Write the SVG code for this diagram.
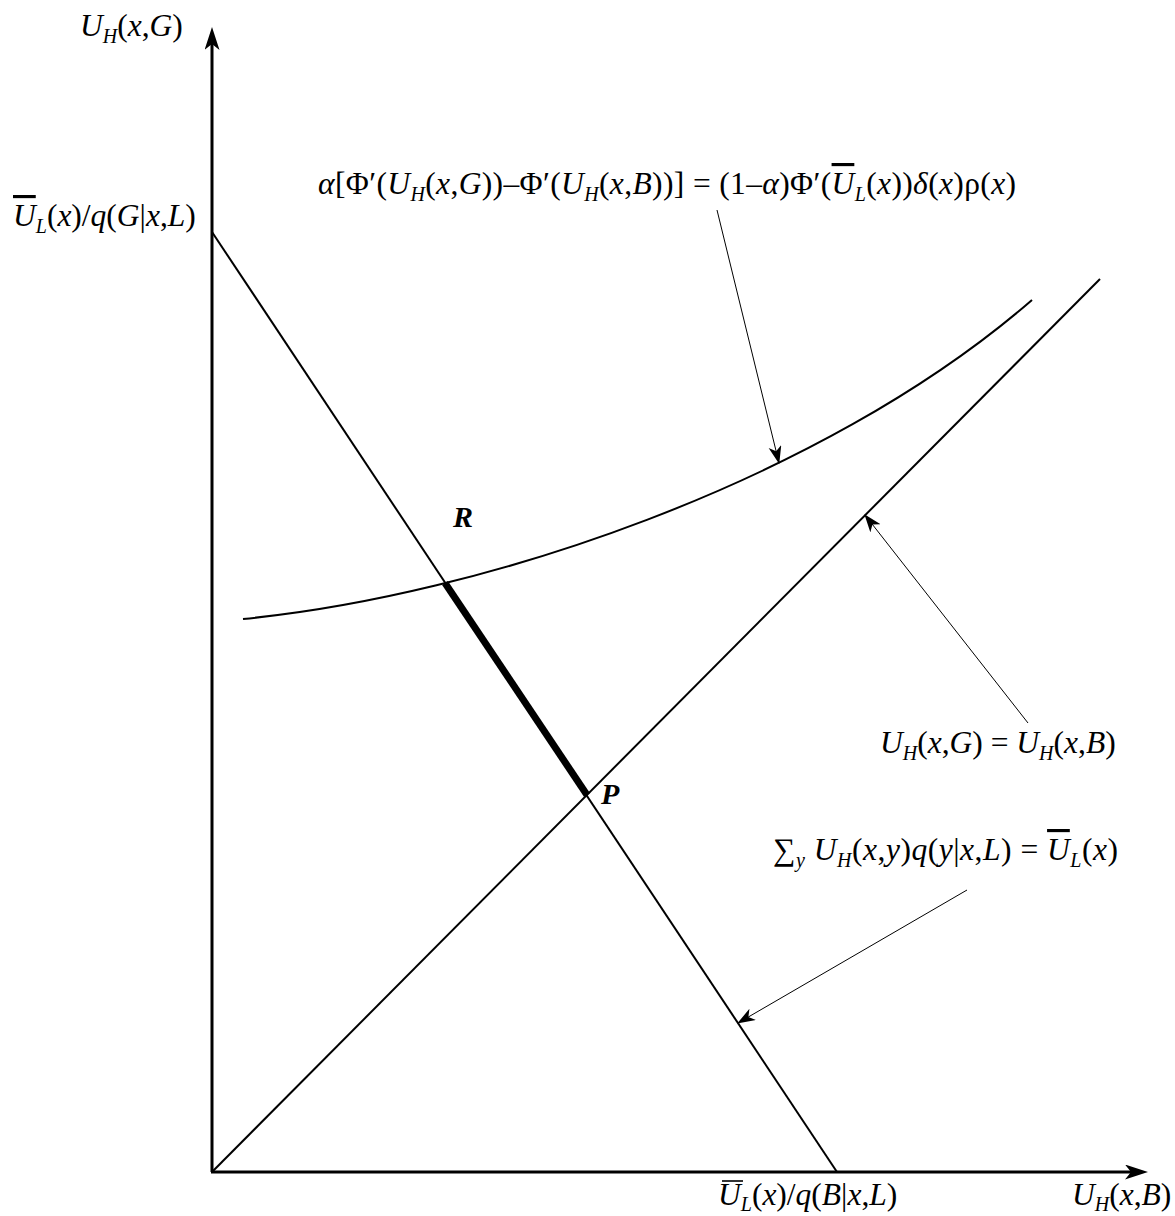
<svg xmlns="http://www.w3.org/2000/svg" width="1175" height="1216" viewBox="0 0 1175 1216">
<style>
text{font-family:"Liberation Serif","Times New Roman",serif;font-size:31.5px;fill:#000}
.i{font-style:italic}
.s{font-size:20px;font-style:italic}
.b{font-weight:bold;font-style:italic;font-size:30px}
.ax{stroke:#000;stroke-width:3;fill:none}
.ln{stroke:#000;stroke-width:2;fill:none}
.ld{stroke:#000;stroke-width:1;fill:none}
.bar{stroke:#000;stroke-width:1.6;fill:none}
.ov{text-decoration:overline}
</style>
<defs>
<marker id="axArrow" markerUnits="userSpaceOnUse" markerWidth="26" markerHeight="18" refX="10" refY="7.5" orient="auto">
<path d="M0,0 L23,7.5 L0,15 L6,7.5 Z" fill="#000"/>
</marker>
<marker id="ldArrow" markerUnits="userSpaceOnUse" markerWidth="20" markerHeight="15" refX="17" refY="6.5" orient="auto">
<path d="M0,0 L18,6.5 L0,13 L5,6.5 Z" fill="#000"/>
</marker>
</defs>

<g id="axes">
<line class="ax" x1="212" y1="1172" x2="212" y2="40" marker-end="url(#axArrow)"/>
<line class="ax" x1="211" y1="1172" x2="1135" y2="1172" marker-end="url(#axArrow)"/>
</g>

<g id="budget-line">
<line class="ln" x1="212" y1="232" x2="837" y2="1172"/>
</g>
<g id="diagonal">
<line class="ln" x1="212" y1="1172" x2="1100" y2="279"/>
</g>
<g id="curve">
<path class="ln" d="M243,619 C480,596 820,484 1032,300"/>
</g>
<g id="segment-RP">
<line stroke="#000" stroke-width="7" x1="445" y1="583" x2="587" y2="795"/>
</g>

<g id="connectors">
<line class="ld" x1="717" y1="210" x2="779" y2="463" marker-end="url(#ldArrow)"/>
<line class="ld" x1="1028" y1="723" x2="865" y2="515" marker-end="url(#ldArrow)"/>
<line class="ld" x1="967" y1="890" x2="738" y2="1023" marker-end="url(#ldArrow)"/>
</g>

<g id="label-yaxis">
<text x="80" y="36"><tspan class="i">U</tspan><tspan class="s" dy="7">H</tspan><tspan dy="-7">(</tspan><tspan class="i">x</tspan>,<tspan class="i">G</tspan>)</text>
</g>
<g id="label-yintercept">
<text x="13" y="226"><tspan class="i ov">U</tspan><tspan class="s" dy="7">L</tspan><tspan dy="-7">(</tspan><tspan class="i">x</tspan>)/<tspan class="i">q</tspan>(<tspan class="i">G</tspan>|<tspan class="i">x</tspan>,<tspan class="i">L</tspan>)</text>
</g>
<g id="label-curve">
<text x="318" y="194" textLength="698"><tspan class="i">α</tspan>[Φ′(<tspan class="i">U</tspan><tspan class="s" dy="7">H</tspan><tspan dy="-7">(</tspan><tspan class="i">x</tspan>,<tspan class="i">G</tspan>))–Φ′(<tspan class="i">U</tspan><tspan class="s" dy="7">H</tspan><tspan dy="-7">(</tspan><tspan class="i">x</tspan>,<tspan class="i">B</tspan>))] = (1–<tspan class="i">α</tspan>)Φ′(<tspan class="i ov">U</tspan><tspan class="s" dy="7">L</tspan><tspan dy="-7">(</tspan><tspan class="i">x</tspan>))<tspan class="i">δ</tspan>(<tspan class="i">x</tspan>)ρ(<tspan class="i">x</tspan>)</text>
</g>
<g id="label-diagonal">
<text x="880" y="753"><tspan class="i">U</tspan><tspan class="s" dy="7">H</tspan><tspan dy="-7">(</tspan><tspan class="i">x</tspan>,<tspan class="i">G</tspan>) = <tspan class="i">U</tspan><tspan class="s" dy="7">H</tspan><tspan dy="-7">(</tspan><tspan class="i">x</tspan>,<tspan class="i">B</tspan>)</text>
</g>
<g id="label-budget">
<text x="773" y="860" textLength="345">∑<tspan class="s" dy="7">y</tspan><tspan dy="-7"> </tspan><tspan class="i">U</tspan><tspan class="s" dy="7">H</tspan><tspan dy="-7">(</tspan><tspan class="i">x</tspan>,<tspan class="i">y</tspan>)<tspan class="i">q</tspan>(<tspan class="i">y</tspan>|<tspan class="i">x</tspan>,<tspan class="i">L</tspan>) = <tspan class="i ov">U</tspan><tspan class="s" dy="7">L</tspan><tspan dy="-7">(</tspan><tspan class="i">x</tspan>)</text>
</g>
<g id="label-xintercept">
<line class="bar" x1="722" y1="1181" x2="743" y2="1181"/>
<text x="718" y="1205"><tspan class="i">U</tspan><tspan class="s" dy="6">L</tspan><tspan dy="-6">(</tspan><tspan class="i">x</tspan>)/<tspan class="i">q</tspan>(<tspan class="i">B</tspan>|<tspan class="i">x</tspan>,<tspan class="i">L</tspan>)</text>
</g>
<g id="label-xaxis">
<text x="1072" y="1205"><tspan class="i">U</tspan><tspan class="s" dy="6">H</tspan><tspan dy="-6">(</tspan><tspan class="i">x</tspan>,<tspan class="i">B</tspan>)</text>
</g>
<g id="point-R">
<text class="b" x="453" y="527">R</text>
</g>
<g id="point-P">
<text class="b" x="601" y="804">P</text>
</g>
</svg>
